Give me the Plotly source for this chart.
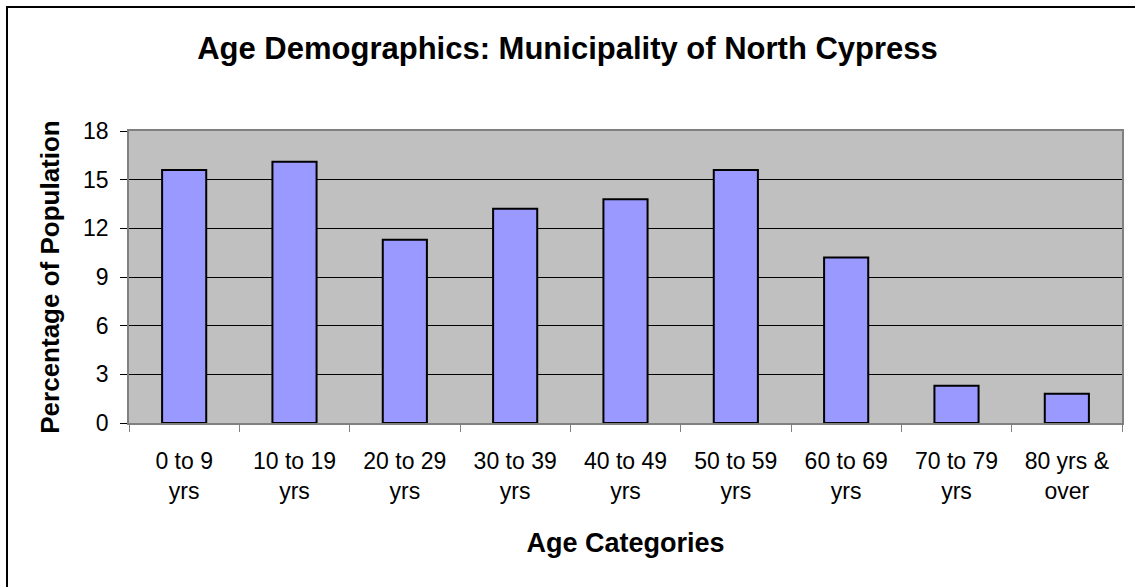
import plotly.graph_objects as go

# Age categories and share of population (%)
categories = ["0 to 9<br>yrs", "10 to 19<br>yrs", "20 to 29<br>yrs", "30 to 39<br>yrs",
              "40 to 49<br>yrs", "50 to 59<br>yrs", "60 to 69<br>yrs", "70 to 79<br>yrs",
              "80 yrs &<br>over"]
percent = [15.6, 16.1, 11.3, 13.2, 13.8, 15.6, 10.2, 2.3, 1.8]
y_ticks = [0, 3, 6, 9, 12, 15, 18]

font_family = "Arial, Liberation Sans, sans-serif"

fig = go.Figure(go.Bar(
    x=categories,
    y=percent,
    width=0.4,
    marker=dict(color="#9999FF", line=dict(color="black", width=2)),
))

fig.update_layout(
    width=1135, height=587,
    margin=dict(l=129, r=13, t=131, b=164),
    paper_bgcolor="white",
    plot_bgcolor="#C0C0C0",
    font=dict(family=font_family, color="black", size=23),
    title=dict(text="<b>Age Demographics: Municipality of North Cypress</b>",
               x=0.5, xref="container", y=1 - 48 / 587, yref="container",
               xanchor="center", yanchor="middle",
               font=dict(size=31, family=font_family, color="black")),
    showlegend=False,
    bargap=0.6,
)

fig.update_xaxes(
    tickson="boundaries", ticks="outside", ticklen=7, tickcolor="#808080",
    showline=True, linecolor="#808080", linewidth=1.5, mirror=True,
    showgrid=False, ticklabelstandoff=17,
    tickfont=dict(size=23),
    title=dict(text="<b>Age Categories</b>", font=dict(size=27), standoff=30),
)

fig.update_yaxes(
    range=[0, 18], tickvals=y_ticks, ticks="outside", ticklen=7, tickcolor="black",
    showline=True, linecolor="#808080", linewidth=1.5, mirror=True,
    showgrid=True, gridcolor="black", gridwidth=1, zeroline=False,
    ticklabelstandoff=7,
    tickfont=dict(size=23),
    title=dict(text="<b>Percentage of Population</b>", font=dict(size=26), standoff=16),
)

# chart outer border (Excel style frame)
fig.add_shape(type="rect", xref="paper", yref="paper",
              x0=(7 - 129) / 993, x1=(1145 - 129) / 993,
              y0=(423 - 600) / 292, y1=(423 - 7) / 292,
              line=dict(color="black", width=2), fillcolor="rgba(0,0,0,0)", layer="below")

fig.write_html("out.html", config={"displayModeBar": False},
               post_script="document.body.style.margin='0';")
